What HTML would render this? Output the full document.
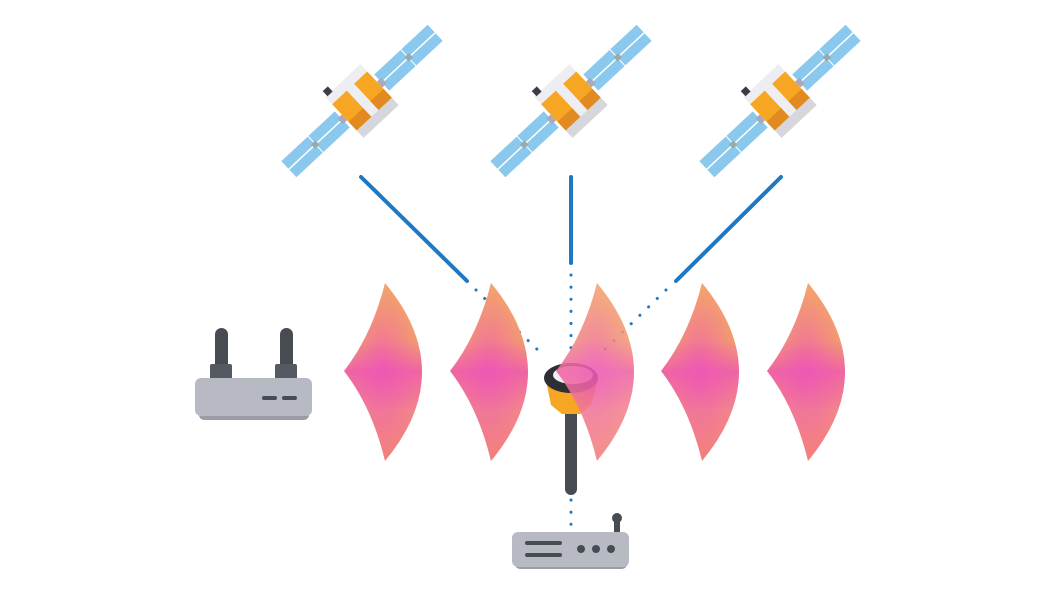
<!DOCTYPE html>
<html><head><meta charset="utf-8"><style>html,body{margin:0;padding:0;background:#fff}svg{display:block}</style></head>
<body>
<svg width="1060" height="596" viewBox="0 0 1060 596" xmlns="http://www.w3.org/2000/svg">
<defs>
<linearGradient id="wv" x1="0" y1="0" x2="0" y2="1">
<stop offset="0" stop-color="#f3a36c"/><stop offset="0.32" stop-color="#f39a70"/>
<stop offset="0.5" stop-color="#ef64a4"/><stop offset="0.72" stop-color="#f2858a"/>
<stop offset="1" stop-color="#f27e7c"/></linearGradient>
<radialGradient id="wv2" cx="0.5" cy="0.48" r="0.45"><stop offset="0" stop-color="#ee4fbf" stop-opacity="0.6"/><stop offset="1" stop-color="#ee4fbf" stop-opacity="0"/></radialGradient>
<g id="wave"><path d="M41,0 Q28,52 0,88 Q28,124 41,178 Q115,89 41,0Z" fill="url(#wv)"/><path d="M41,0 Q28,52 0,88 Q28,124 41,178 Q115,89 41,0Z" fill="url(#wv2)"/></g>
<g id="sat">
 <g transform="rotate(-43)">
  <rect x="-100" y="-11" width="36" height="22" fill="#8ac8ee"/><rect x="-63" y="-11" width="36" height="22" fill="#8ac8ee"/>
  <rect x="27" y="-11" width="36" height="22" fill="#8ac8ee"/><rect x="64" y="-11" width="36" height="22" fill="#8ac8ee"/>
  <line x1="-100" y1="0" x2="-27" y2="0" stroke="#fff" stroke-width="1.5"/><line x1="27" y1="0" x2="100" y2="0" stroke="#fff" stroke-width="1.5"/>
  <rect x="-67" y="-3" width="6" height="6" fill="#9aa"/><rect x="61" y="-3" width="6" height="6" fill="#9aa"/>
  <rect x="-30" y="-4" width="8" height="8" fill="#aab"/><rect x="22" y="-4" width="8" height="8" fill="#aab"/>
  <rect x="-24" y="-28" width="48" height="56" fill="#eeeef2"/>
  <rect x="-24" y="-18" width="20" height="36" fill="#f6a623"/><rect x="6" y="-18" width="18" height="36" fill="#f6a623"/>
  <rect x="-24" y="6" width="20" height="12" fill="#e08a20"/><rect x="6" y="6" width="18" height="12" fill="#e08a20"/>
  <rect x="-24" y="18" width="48" height="10" fill="#d6d6dc"/>
  <rect x="-22" y="-34" width="7" height="7" fill="#3a3d44"/>
 </g>
</g>
</defs>
<use href="#sat" x="362" y="101"/><use href="#sat" x="571" y="101"/><use href="#sat" x="780" y="101"/>
<g stroke="#1f78c1" stroke-width="4" stroke-linecap="round">
<line x1="361" y1="177" x2="467" y2="281"/><line x1="571" y1="177" x2="571" y2="263"/><line x1="781" y1="177" x2="676" y2="281"/></g>
<g stroke="#1f78c1" stroke-width="3" stroke-linecap="round" stroke-dasharray="0.1 12" fill="none">
<line x1="476" y1="290" x2="542" y2="354"/><line x1="571" y1="275" x2="571" y2="352"/><line x1="666" y1="290" x2="600" y2="354"/><line x1="571" y1="500" x2="571" y2="527"/></g>
<use href="#wave" x="344" y="283"/><use href="#wave" x="450" y="283"/>
<use href="#wave" x="661" y="283"/><use href="#wave" x="767" y="283"/>
<!-- antenna -->
<rect x="565" y="405" width="12" height="90" rx="6" fill="#474b52"/>
<path d="M546,380 L598,380 L591,405 L580,414 L562,414 L551,405Z" fill="#f6a623"/>
<ellipse cx="571" cy="378" rx="27" ry="15" fill="#2e2f35"/>
<ellipse cx="573" cy="375" rx="20" ry="9" fill="#f0f0f4"/>
<use href="#wave" x="556" y="283" opacity="0.88"/>
<!-- left router -->
<rect x="215" y="328" width="13" height="45" rx="6.5" fill="#474b52"/><rect x="280" y="328" width="13" height="45" rx="6.5" fill="#474b52"/>
<rect x="210" y="364" width="22" height="16" rx="2" fill="#555962"/><rect x="275" y="364" width="22" height="16" rx="2" fill="#555962"/>
<rect x="199" y="395" width="110" height="25" rx="5" fill="#9a9ca6"/>
<rect x="195" y="378" width="117" height="38" rx="6" fill="#b8bac3"/>
<rect x="262" y="396" width="15" height="4" rx="2" fill="#474b52"/><rect x="282" y="396" width="15" height="4" rx="2" fill="#474b52"/>
<!-- bottom router -->
<rect x="614" y="520" width="6" height="16" fill="#474b52"/><circle cx="617" cy="518" r="5" fill="#474b52"/>
<rect x="515" y="540" width="112" height="29" rx="5" fill="#9a9ca6"/>
<rect x="512" y="532" width="117" height="35" rx="6" fill="#b8bac3"/>
<rect x="525" y="541" width="37" height="4" rx="2" fill="#474b52"/><rect x="525" y="553" width="37" height="4" rx="2" fill="#474b52"/>
<circle cx="581" cy="549" r="4" fill="#474b52"/><circle cx="596" cy="549" r="4" fill="#474b52"/><circle cx="611" cy="549" r="4" fill="#474b52"/>
</svg>
</body></html>
